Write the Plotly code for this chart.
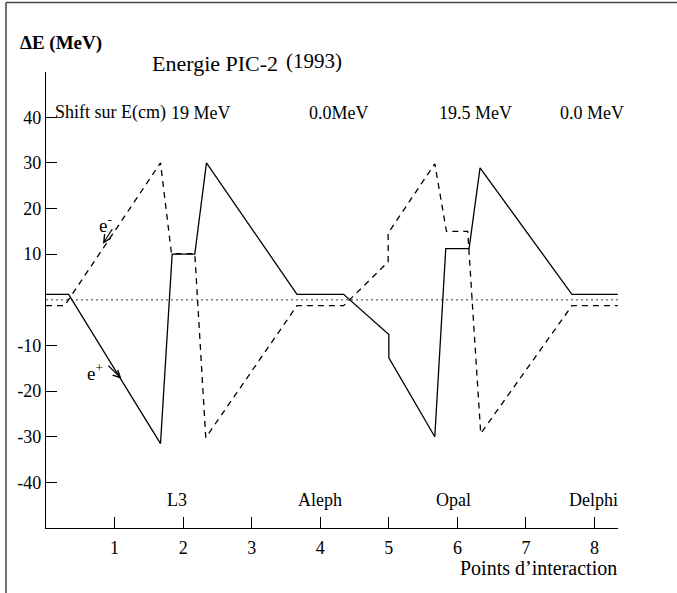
import plotly.graph_objects as go

# interaction-point coordinate and energy deviation (MeV)
x_eplus = [0, 0.33, 1.67, 1.84, 2.17, 2.34, 3.66, 4.34, 5.00, 5.00, 5.67, 5.83, 6.17, 6.33, 7.67, 8.34]
de_eplus = [1.2, 1.2, -31.5, 10.0, 10.0, 30.0, 1.2, 1.2, -7.6, -12.7, -30.0, 11.2, 11.2, 28.9, 1.2, 1.2]

x_eminus = [0, 0.27, 1.67, 1.83, 2.17, 2.33, 3.66, 4.34, 4.99, 4.99, 5.67, 5.84, 6.15, 6.34, 7.67, 8.34]
de_eminus = [-1.3, -1.3, 30.0, 10.1, 10.1, -30.2, -1.3, -1.3, 8.3, 14.6, 29.8, 15.0, 15.0, -29.3, -1.3, -1.3]

x_ref = [0, 8.34]
de_ref = [0, 0]

experiments = ["L3", "Aleph", "Opal", "Delphi"]
experiment_x = [1.91, 4.0, 5.95, 7.99]

shift_labels = ["19 MeV", "0.0MeV", "19.5 MeV", "0.0 MeV"]
shift_x = [2.26, 4.28, 6.26, 7.96]

xtick_vals = [1, 2, 3, 4, 5, 6, 7, 8]
ytick_vals = [-40, -30, -20, -10, 10, 20, 30, 40]

W, H = 677, 593
L, R, T, B = 46, 59, 72, 65
FONT = "Liberation Serif"


def px_x(px):
    return (px - L) / (W - L - R)


def px_y(py):
    return 1 - (py - T) / (H - T - B)


fig = go.Figure()
fig.add_trace(go.Scatter(x=x_ref, y=de_ref, mode="lines",
                         line=dict(color="#777777", width=1.3, dash="2px,3px")))
fig.add_trace(go.Scatter(x=x_eminus, y=de_eminus, mode="lines",
                         line=dict(color="black", width=1.3, dash="6px,5px")))
fig.add_trace(go.Scatter(x=x_eplus, y=de_eplus, mode="lines",
                         line=dict(color="black", width=1.3)))

ann = []
# detector names
for name, xv in zip(experiments, experiment_x):
    ann.append(dict(x=xv, y=-43.9, xref="x", yref="y", text=name, showarrow=False,
                    font=dict(size=18)))
# energy shift text along the top
ann.append(dict(x=0.10, y=41.0, xref="x", yref="y", text="Shift sur E(cm)",
                showarrow=False, xanchor="left", font=dict(size=18)))
for lab, xv in zip(shift_labels, shift_x):
    ann.append(dict(x=xv, y=41.0, xref="x", yref="y", text=lab, showarrow=False,
                    font=dict(size=18)))
# titles
ann.append(dict(x=px_x(18), y=px_y(43), xref="paper", yref="paper", text="<b>ΔE (MeV)</b>",
                showarrow=False, xanchor="left", yanchor="middle", font=dict(size=19)))
ann.append(dict(x=px_x(150), y=px_y(64), xref="paper", yref="paper", text="Energie PIC-2",
                showarrow=False, xanchor="left", yanchor="middle", font=dict(size=22)))
ann.append(dict(x=px_x(284), y=px_y(61), xref="paper", yref="paper", text="(1993)",
                showarrow=False, xanchor="left", yanchor="middle", font=dict(size=21)))
ann.append(dict(x=px_x(619), y=px_y(568), xref="paper", yref="paper",
                text="Points d’interaction", showarrow=False, xanchor="right",
                yanchor="middle", font=dict(size=20)))
# beam labels and arrows
ann.append(dict(x=0.745, y=16.5, xref="x", yref="y", text="e<sup>-</sup>",
                showarrow=False, xanchor="left", font=dict(size=19)))
ann.append(dict(x=0.83, y=12.3, xref="x", yref="y", text="&nbsp;", showarrow=True,
                ax=11, ay=-17, arrowhead=5, arrowsize=1.3, arrowwidth=1.1,
                arrowcolor="black", font=dict(size=2)))
ann.append(dict(x=0.57, y=-15.8, xref="x", yref="y", text="e<sup>+</sup>",
                showarrow=False, xanchor="left", font=dict(size=19)))
ann.append(dict(x=1.10, y=-17.3, xref="x", yref="y", text="&nbsp;", showarrow=True,
                ax=-15, ay=-15, arrowhead=5, arrowsize=1.3, arrowwidth=1.1,
                arrowcolor="black", font=dict(size=2)))

# frame round the page (only left and top edges are visible)
shapes = [
    dict(type="line", xref="paper", yref="paper", x0=px_x(6), x1=px_x(6),
         y0=px_y(2.5), y1=px_y(600), line=dict(color="#444444", width=1.5)),
    dict(type="line", xref="paper", yref="paper", x0=px_x(6), x1=px_x(690),
         y0=px_y(2.5), y1=px_y(2.5), line=dict(color="#444444", width=1.5)),
]

fig.update_layout(
    width=W, height=H,
    margin=dict(l=L, r=R, t=T, b=B),
    paper_bgcolor="white", plot_bgcolor="white",
    showlegend=False,
    font=dict(family=FONT, size=18, color="black"),
    annotations=ann,
    shapes=shapes,
    xaxis=dict(range=[0, 572 / 68.57], showline=True, linecolor="black", linewidth=1.4,
               ticks="inside", ticklen=11, tickwidth=1.2, tickcolor="black",
               tickvals=xtick_vals, ticktext=[str(v) for v in xtick_vals],
               tickfont=dict(family=FONT, size=18),
               showgrid=False, zeroline=False, ticklabelstandoff=3),
    yaxis=dict(range=[-50, 49.9], showline=True, linecolor="black", linewidth=1.4,
               ticks="inside", ticklen=11, tickwidth=1.2, tickcolor="black",
               tickvals=ytick_vals, ticktext=[str(v) for v in ytick_vals],
               tickfont=dict(family=FONT, size=18),
               showgrid=False, zeroline=False, ticklabelstandoff=0),
)

# drop the default page margin so the figure sits at the window's corner
fig.write_html("out.html", config={"displayModeBar": False},
               post_script="document.body.style.margin='0';")
